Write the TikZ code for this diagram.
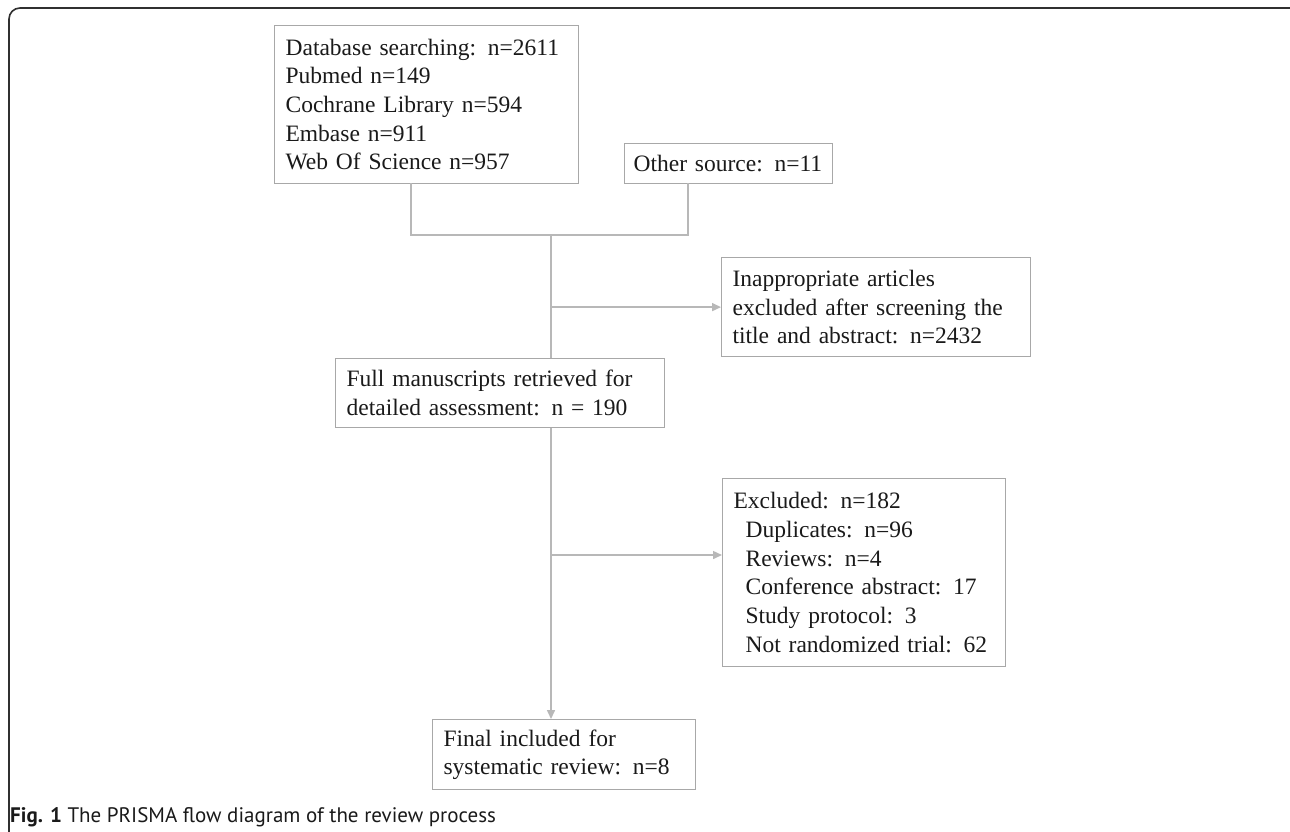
\documentclass[tikz,border=0pt]{standalone}
\usepackage{fontspec}
\setmainfont{Liberation Serif}
\newfontfamily\capfont{PT Sans}
\usetikzlibrary{arrows.meta}
\definecolor{boxgray}{HTML}{A8A8A8}
\definecolor{linegray}{HTML}{B8B8B8}
\definecolor{framegray}{HTML}{303030}
\definecolor{txt}{HTML}{1A1A1A}
\begin{document}
\begin{tikzpicture}[x=1pt,y=-1pt,
  box/.style={draw=boxgray, line width=1.2pt, fill=white, anchor=north west,
    inner xsep=11pt, inner ysep=0pt, align=left, text=txt,
    font=\fontsize{23.5}{28.7}\selectfont},
  conn/.style={draw=linegray, line width=1.5pt},
  arr/.style={conn, -{Triangle[length=9pt,width=8pt]}},
  frame/.style={draw=framegray, line width=1.6pt, rounded corners=11pt},
  captext/.style={anchor=base west, inner sep=0pt, text=txt,
    font=\capfont\fontsize{21}{24}\selectfont}
]
\useasboundingbox (0,0) rectangle (1290,831);
\fill[white] (0,0) rectangle (1290,831);
\draw[frame] (9,840) -- (9,8) -- (1300,8);

\node[box, text width=282pt, minimum height=158pt] (db) at (274,25)
  {Database searching: n=2611\\Pubmed n=149\\Cochrane Library n=594\\Embase n=911\\Web Of Science n=957};
\node[box, inner xsep=9pt, text width=190pt, minimum height=40pt] (other) at (624,143)
  {\mbox{Other source: n=11}};
\node[box, text width=287pt, minimum height=99pt] (inapp) at (721,257)
  {Inappropriate articles\\\makebox[278pt][s]{excluded after screening the}\\title and abstract: n=2432};
\node[box, text width=307pt, minimum height=69pt] (full) at (335,358)
  {\makebox[307pt][s]{Full manuscripts retrieved for}\\detailed assessment: n = 190};
\node[box, text width=261pt, minimum height=188pt] (excl) at (722,478)
  {Excluded: n=182\\\hspace*{12pt}Duplicates: n=96\\\hspace*{12pt}Reviews: n=4\\\hspace*{12pt}Conference abstract: 17\\\hspace*{12pt}Study protocol: 3\\\hspace*{12pt}Not randomized trial: 62};
\node[box, text width=241pt, minimum height=70pt] (final) at (432,719)
  {Final included for\\systematic review: n=8};

\coordinate (dbs) at (411,183);
\coordinate (ots) at (688,183);
\coordinate (jn) at (551,235);
\coordinate (e2) at (551,555);
\draw[conn] (dbs) -- (dbs |- jn) -- (ots |- jn) -- (ots);
\draw[conn] (jn) -- (jn |- full.north);
\draw[arr] (jn |- full.south) -- (jn |- final.north);
\draw[arr] (jn |- inapp.west) -- (inapp.west);
\draw[arr] (e2) -- (e2 -| excl.west);

\node[captext] (cap) at (10,822) {\textbf{Fig. 1} The PRISMA flow diagram of the review process};
\end{tikzpicture}
\end{document}
